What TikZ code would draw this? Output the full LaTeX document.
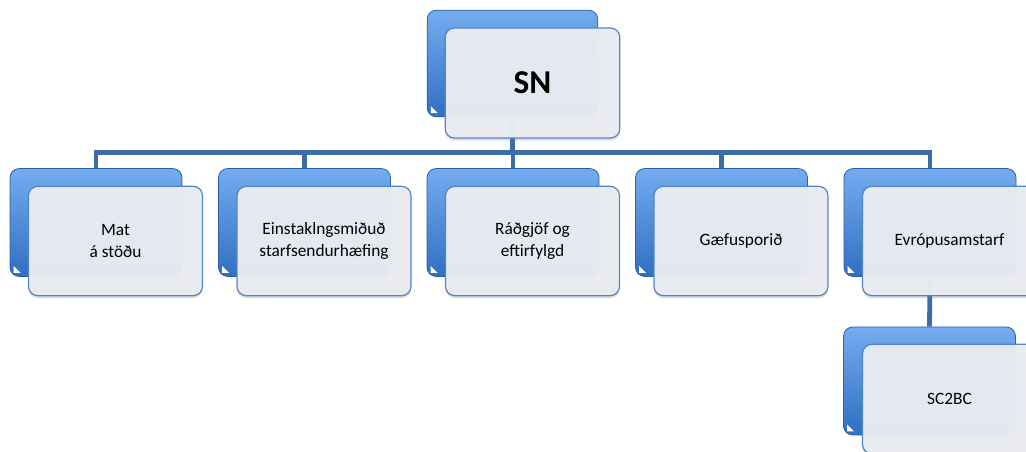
\documentclass[tikz,border=0pt]{standalone}
\usepackage{fontspec}
\setmainfont{Carlito}
\usetikzlibrary{shadows,backgrounds}
\definecolor{backtop}{HTML}{74ACEE}
\definecolor{backbot}{HTML}{2F6FC2}
\definecolor{backedge}{HTML}{2A5EA6}
\definecolor{frontfill}{HTML}{E9ECF2}
\definecolor{frontedge}{HTML}{5285C4}
\definecolor{connc}{HTML}{3E6CA8}
\tikzset{
  backbox/.style={draw=backedge, line width=0.6pt, top color=backtop, bottom color=backbot,
    rounded corners=7pt, minimum width=129pt, minimum height=81pt, inner sep=0pt},
  frontbox/.style={draw=frontedge, line width=0.9pt, fill=frontfill, fill opacity=0.97,
    text opacity=1, rounded corners=7pt, minimum width=130.5pt, minimum height=82pt,
    inner sep=0pt, align=center, font=\fontsize{13}{16}\selectfont,
    drop shadow={shadow xshift=0pt, shadow yshift=-2pt, opacity=0.25}},
  conn/.style={draw=connc, line width=3.6pt},
  tri/.style={fill=white}
}
\begin{document}
\begin{tikzpicture}[x=0.75pt,y=-0.75pt]
\useasboundingbox (0,0) rectangle (1026,452);
% SN
\node[backbox, minimum width=128pt, minimum height=80pt] (snb) at (512.5,63.5) {};
\node[frontbox, minimum width=131pt, minimum height=82.5pt, font=\fontsize{25}{30}\bfseries] (snf) at (532.5,83) {SN};
% children
\foreach \i/\n in {0/a,1/b,2/c,3/d,4/e}{
  \node[backbox] (\n b) at ({96+208.5*\i},222.5) {};
}
\node[frontbox] (af) at (115.5,241) {Mat\\á stöðu};
\node[frontbox] (bf) at (324,241) {Einstaklngsmiðuð\\starfsendurhæfing};
\node[frontbox] (cf) at (532.5,241) {Ráðgjöf og\\eftirfylgd};
\node[frontbox] (df) at (741,241) {Gæfusporið};
\node[frontbox] (ef) at (949.5,241) {Evrópusamstarf};
\node[backbox] (sb) at (929.5,381) {};
\node[frontbox] (sf) at (949.5,399) {SC2BC};
% white corner triangles
\foreach \n in {snb,ab,bb,cb,db,eb,sb}{
  \fill[tri] ([shift={(4,-4)}]\n.south west) -- ++(0,-7) -- ++(7,7) -- cycle;
}
\begin{scope}[on background layer]
\foreach \n in {ab,bb,cb,db,eb}{
  \draw[conn] (snb.south) -- ++(0,35.5) -| (\n.north);
}
\draw[conn] (eb.south) -- (sb.north);
\end{scope}
\end{tikzpicture}
\end{document}
